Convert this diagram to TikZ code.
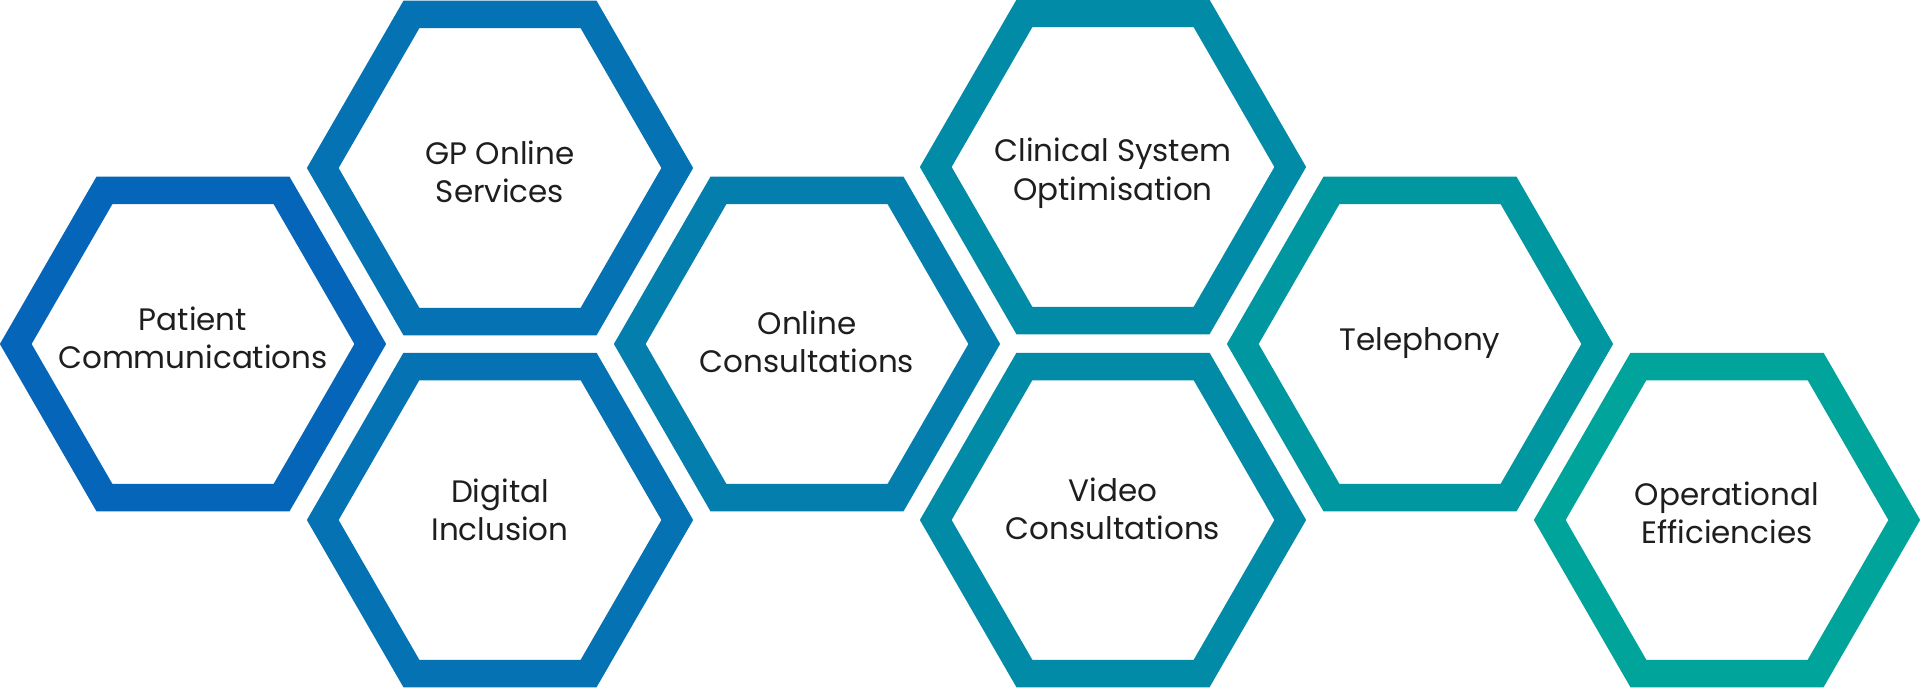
\documentclass[tikz,border=0pt]{standalone}
\usepackage{fontspec}
\setmainfont{Poppins}
\usepackage{xcolor}
\usepackage{tikz}
\usetikzlibrary{shapes.geometric}
\usetikzlibrary{positioning}

\definecolor{hexblue}{RGB}{5,101,185}
\definecolor{hexteal}{RGB}{0,164,154}
\definecolor{hextext}{RGB}{30,30,30}

\tikzset{
  hexcell/.style={regular polygon, regular polygon sides=6,
                  minimum size=354.5pt, inner sep=0pt,
                  line width=27.5pt, draw=hexteal!#1!hexblue},
  hexlabel/.style={text=hextext, align=center, inner sep=0pt,
                   font=\fontsize{31}{38.5}\selectfont}
}

\begin{document}
\begin{tikzpicture}[x=1pt, y=-1pt]
\useasboundingbox (0,0) rectangle (1920,688);
\node[hexcell=0]   (patient)     at (193,344)  {};
\node[hexcell=20]  (gponline)    at (500,168)  {};
\node[hexcell=20]  (digital)     at (500,520)  {};
\node[hexcell=40]  (onlinec)     at (807,344)  {};
\node[hexcell=60]  (clinical)    at (1113,167) {};
\node[hexcell=60]  (videoc)      at (1113,520) {};
\node[hexcell=80]  (telephony)   at (1420,344) {};
\node[hexcell=100] (operational) at (1727,520) {};
% labels
\node[hexlabel] (patient-text)     at ([yshift=6pt]patient.center)      {Patient\\Communications};
\node[hexlabel] (gponline-text)    at ([yshift=-4pt]gponline.center)    {GP Online\\Services};
\node[hexlabel] (digital-text)     at ([yshift=10pt]digital.center)     {Digital\\Inclusion};
\node[hexlabel] (onlinec-text)     at ([yshift=2pt]onlinec.center)      {Online\\Consultations};
\node[hexlabel] (clinical-text)    at ([yshift=-6pt]clinical.center)    {Clinical System\\Optimisation};
\node[hexlabel] (videoc-text)      at ([yshift=11pt]videoc.center)      {Video\\Consultations};
\node[hexlabel] (telephony-text)   at ([yshift=1pt]telephony.center)    {Telephony};
\node[hexlabel] (operational-text) at ([yshift=7pt]operational.center)  {Operational\\Efficiencies};
\end{tikzpicture}
\end{document}
